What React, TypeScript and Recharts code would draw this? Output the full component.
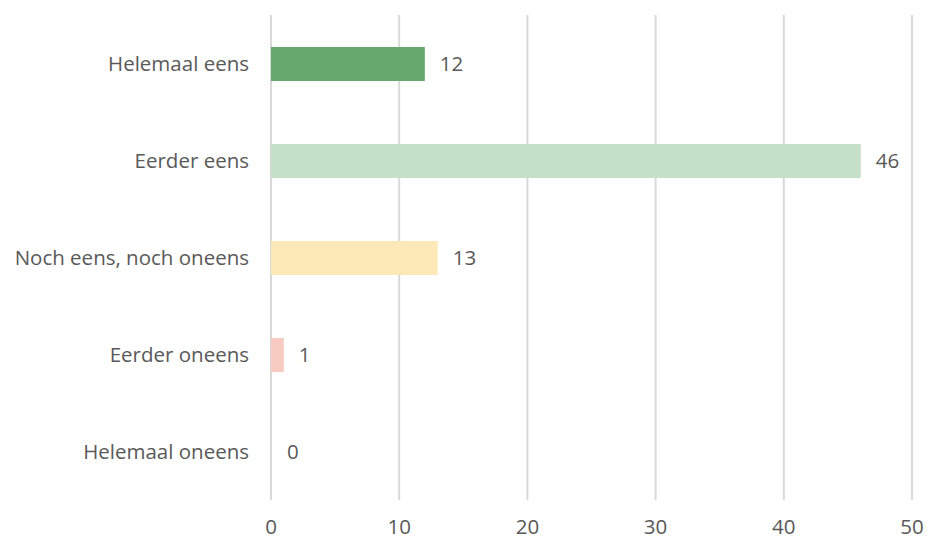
import { Bar, BarChart, CartesianGrid, Cell, LabelList, XAxis, YAxis } from "recharts";

const categories = ["Helemaal eens", "Eerder eens", "Noch eens, noch oneens", "Eerder oneens", "Helemaal oneens"];
const counts = [12, 46, 13, 1, 0];
const barColors = ["#67a86f", "#c5e0c9", "#fde8b7", "#f8cbc2", "transparent"];
const xTicks = [0, 10, 20, 30, 40, 50];

const data = categories.map((name, i) => ({ name, value: counts[i] }));

const font = "'Open Sans', sans-serif";

export default function App() {
    return (
        <div style={{ position: "absolute", left: 0, top: 0, width: 929, height: 541, background: "#fff" }}>
            <BarChart
                width={929}
                height={541}
                data={data}
                layout="vertical"
                margin={{ top: 15, right: 17, bottom: 0, left: 0 }}
                barCategoryGap={0}
            >
                <CartesianGrid horizontal={false} stroke="#d9d9d9" strokeWidth={2} />
                <XAxis
                    type="number"
                    domain={[0, 50]}
                    ticks={xTicks}
                    axisLine={false}
                    tickLine={false}
                    tickMargin={13}
                    height={41}
                    tick={{ fill: "#595959", fontSize: 20.5, fontFamily: font }}
                />
                <YAxis
                    type="category"
                    dataKey="name"
                    width={271}
                    axisLine={false}
                    tickLine={false}
                    tickMargin={16}
                    tick={{ fill: "#595959", fontSize: 20.5, fontFamily: font }}
                />
                <Bar dataKey="value" barSize={34} minPointSize={1} isAnimationActive={false}>
                    {data.map((d, i) => (
                        <Cell key={d.name} fill={barColors[i]} />
                    ))}
                    <LabelList
                        dataKey="value"
                        position="right"
                        offset={15}
                        fill="#595959"
                        fontSize={20.5}
                        fontFamily={font}
                    />
                </Bar>
            </BarChart>
        </div>
    );
}
